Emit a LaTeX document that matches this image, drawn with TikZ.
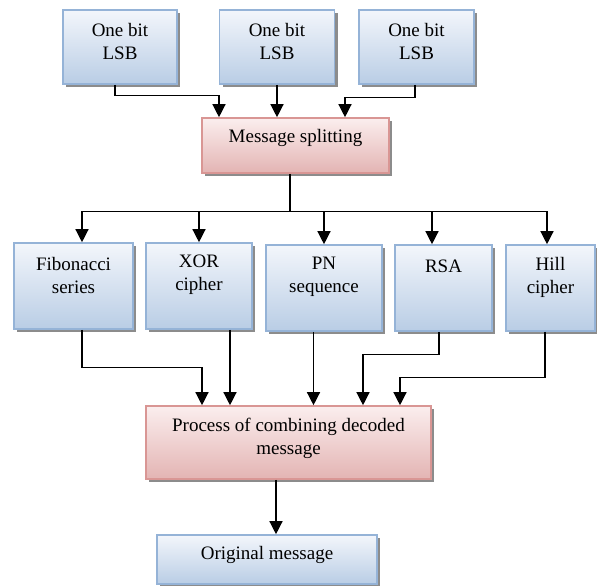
\documentclass[tikz,border=0pt]{standalone}
\usepackage{fontspec}
\setmainfont{Liberation Serif}
\usetikzlibrary{arrows.meta,shadows,calc}
\definecolor{bluetop}{HTML}{F3F6FB}
\definecolor{bluebot}{HTML}{B9CDE5}
\definecolor{blueline}{HTML}{95B3D7}
\definecolor{pinktop}{HTML}{FBEEEE}
\definecolor{pinkbot}{HTML}{E3B4B3}
\definecolor{pinkline}{HTML}{D99694}
\definecolor{shadowgray}{HTML}{8C8C8C}
\tikzset{
  boxbase/.style={rectangle, line width=1.6pt, inner sep=0pt,
    drop shadow={shadow xshift=3pt, shadow yshift=-3pt, fill=shadowgray, opacity=1}},
  bluebox/.style={boxbase, draw=blueline, top color=bluetop, bottom color=bluebot},
  pinkbox/.style={boxbase, draw=pinkline, top color=pinktop, bottom color=pinkbot},
  txt/.style={align=center, inner sep=0pt, font=\fontsize{19}{23}\selectfont},
  arr/.style={line width=1.3pt, -{Triangle[width=13pt,length=13pt]}},
  ln/.style={line width=1.3pt}
}
\begin{document}
\begin{tikzpicture}[x=1pt,y=-1pt]
\useasboundingbox (0,0) rectangle (597,586);
% top boxes
\node[bluebox, minimum width=114pt, minimum height=74pt] (lsb1) at (120,47) {};
\node[bluebox, minimum width=115pt, minimum height=74pt] (lsb2) at (277,47) {};
\node[bluebox, minimum width=115pt, minimum height=74pt] (lsb3) at (416.5,47) {};
\node[txt] (lsb1t) at ($(lsb1.north)+(0,32)$) {One bit\\LSB};
\node[txt] (lsb2t) at ($(lsb2.north)+(0,32)$) {One bit\\LSB};
\node[txt] (lsb3t) at ($(lsb3.north)+(0,32)$) {One bit\\LSB};
% splitting
\node[pinkbox, minimum width=187pt, minimum height=55pt] (split) at (295.5,145.5) {};
\node[txt] (splitt) at ($(split.north)+(0,21)$) {Message splitting};
% middle boxes
\node[bluebox, minimum width=119pt, minimum height=86pt] (fib) at (73.5,286) {};
\node[bluebox, minimum width=106pt, minimum height=86pt] (xor) at (199,286) {};
\node[bluebox, minimum width=116pt, minimum height=86pt] (pn) at (324,288) {};
\node[bluebox, minimum width=97pt, minimum height=86pt] (rsa) at (443.5,288) {};
\node[bluebox, minimum width=89pt, minimum height=86pt] (hill) at (550.5,288) {};
\node[txt] (fibt) at ($(fib.north)+(0,33)$) {Fibonacci\\series};
\node[txt] (xort) at ($(xor.north)+(0,33)$) {XOR\\cipher};
\node[txt] (pnt) at ($(pn.north)+(0,33)$) {PN\\sequence};
\node[txt] (rsat) at ($(rsa.north)+(0,22)$) {RSA};
\node[txt] (hillt) at ($(hill.north)+(0,33)$) {Hill\\cipher};
% combining
\node[pinkbox, minimum width=285pt, minimum height=73pt] (proc) at (288.5,442.5) {};
\node[txt] (proct) at ($(proc.north)+(0,33.5)$) {Process of combining decoded\\message};
% original
\node[bluebox, minimum width=220pt, minimum height=49pt] (orig) at (267,559.5) {};
\node[txt] (origt) at ($(orig.north)+(0,21)$) {Original message};
% arrows top
\draw[arr] ([xshift=-5pt]lsb1.south) -- ++(0,11) -| ([xshift=-76.5pt]split.north);
\draw[arr] (lsb2.south) -- (lsb2.south |- split.north);
\draw[arr] ([xshift=-1.5pt]lsb3.south) -- ++(0,13) -| ([xshift=49.5pt]split.north);
% bus
\coordinate (splitout) at ([xshift=-5.5pt]split.south);
\coordinate (bus) at ($(splitout)+(0,38)$);
\coordinate (fibin) at ([xshift=8.5pt]fib.north);
\coordinate (hillin) at ([xshift=-3.5pt]hill.north);
\coordinate (rsain) at ([xshift=-11.5pt]rsa.north);
\draw[ln] (splitout) -- (bus);
\draw[arr] (bus) -| (fibin);
\draw[arr] (bus) -| (hillin);
\draw[arr] (bus -| xor.north) -- (xor.north);
\draw[arr] (bus -| pn.north) -- (pn.north);
\draw[arr] (bus -| rsain) -- (rsain);
% lower arrows
\draw[arr] ([xshift=8.5pt]fib.south) -- ++(0,38) -| ([xshift=-86.5pt]proc.north);
\draw[arr] ([xshift=31pt]xor.south) -- ([xshift=31pt]xor.south |- proc.north);
\draw[arr] ([xshift=-10.5pt]pn.south) -- ([xshift=-10.5pt]pn.south |- proc.north);
\draw[arr] ([xshift=-4.5pt]rsa.south) -- ++(0,23) -| ([xshift=74.5pt]proc.north);
\draw[arr] ([xshift=-5.5pt]hill.south) -- ++(0,46) -| ([xshift=111.5pt]proc.north);
% final
\draw[arr] ([xshift=-12.5pt]proc.south) -- ([xshift=-12.5pt]proc.south |- orig.north);
\end{tikzpicture}
\end{document}
